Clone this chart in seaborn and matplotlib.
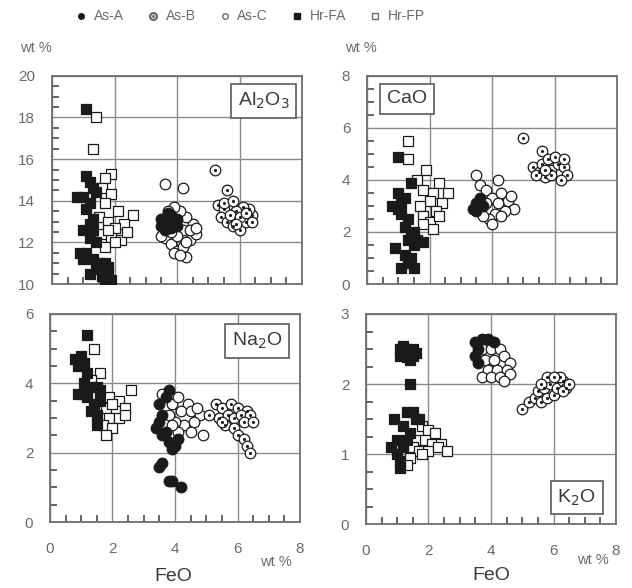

# diagramas FeO vs oxidos (Al2O3, CaO, Na2O, K2O)
import numpy as np
import pandas as pd
import matplotlib
matplotlib.use("Agg")
import matplotlib.pyplot as plt
from matplotlib.ticker import MultipleLocator, AutoMinorLocator
from matplotlib.lines import Line2D
import seaborn as sns

# ---- datos (FeO, oxido) ----
al_hrfa_x = [1.1, 1.1, 1.2, 1.3, 1.0, 0.8, 1.4, 1.2, 1.1, 1.3, 1.2, 1.0, 1.3, 1.2, 1.4, 0.9, 1.1, 1.3, 1.5, 1.7, 1.4, 1.2, 1.6, 1.8, 1.9, 1.7, 1.5, 1.8, 1.0]
al_hrfa_y = [18.4, 15.2, 14.9, 14.6, 14.2, 14.2, 14.4, 13.9, 13.6, 13.1, 12.9, 12.6, 12.6, 12.2, 12.0, 11.5, 11.5, 11.2, 11.0, 11.0, 10.7, 10.5, 10.4, 10.5, 10.2, 10.1, 10.9, 10.8, 11.2]
al_hrfp_x = [1.4, 1.3, 1.9, 1.7, 1.6, 1.9, 1.7, 2.1, 2.6, 1.5, 1.8, 2.3, 2.0, 1.6, 1.9, 2.2, 1.7, 2.0, 2.4, 1.8]
al_hrfp_y = [18.0, 16.5, 15.3, 15.1, 14.6, 14.3, 13.9, 13.5, 13.3, 13.2, 13.0, 12.9, 12.7, 12.4, 12.2, 12.1, 11.8, 12.0, 12.5, 12.6]
al_asa_x = [3.5, 3.7, 3.8, 3.9, 3.6, 4.0, 3.8, 3.7, 4.0, 3.5]
al_asa_y = [12.8, 13.0, 13.3, 12.9, 12.6, 13.1, 12.7, 13.4, 12.8, 13.1]
al_asc_x = [3.6, 4.2, 4.3, 3.6, 3.8, 4.0, 4.2, 4.4, 4.6, 4.5, 4.3, 4.1, 3.9, 3.7, 4.2, 4.0, 3.8, 4.4, 3.9, 4.1, 4.6, 3.5, 4.3]
al_asc_y = [14.8, 14.6, 11.3, 12.2, 11.9, 11.6, 11.8, 12.1, 12.4, 12.9, 13.2, 13.5, 13.7, 13.5, 12.6, 12.3, 12.5, 12.6, 11.5, 11.4, 12.7, 12.3, 12.0]
al_asb_x = [5.2, 5.6, 5.3, 5.5, 5.4, 5.6, 5.8, 6.0, 6.2, 6.4, 6.3, 6.1, 5.9, 5.7, 6.0, 6.2, 5.5, 5.8, 6.4, 5.9]
al_asb_y = [15.5, 14.5, 13.8, 13.6, 13.2, 13.0, 12.8, 12.6, 13.0, 13.3, 13.6, 13.7, 13.5, 13.3, 13.2, 13.4, 13.9, 14.0, 13.0, 12.9]

ca_hrfa_x = [1.0, 1.0, 0.8, 1.0, 1.2, 1.1, 1.3, 1.2, 1.4, 1.3, 1.6, 1.8, 1.5, 0.9, 1.2, 1.3, 1.1, 1.5, 1.4, 1.4, 1.1, 1.5]
ca_hrfa_y = [4.9, 3.5, 3.0, 2.9, 3.3, 2.7, 2.5, 2.2, 1.9, 1.7, 1.7, 1.6, 1.5, 1.4, 1.1, 0.8, 0.6, 0.6, 1.0, 3.9, 3.1, 2.0]
ca_hrfp_x = [1.3, 1.3, 1.9, 1.6, 2.3, 1.8, 2.1, 2.6, 2.0, 2.4, 1.7, 2.2, 1.8, 2.0, 2.1, 1.8, 2.3]
ca_hrfp_y = [5.5, 4.8, 4.4, 4.0, 3.9, 3.6, 3.5, 3.5, 3.2, 3.1, 3.0, 2.8, 2.6, 2.4, 2.1, 2.3, 2.6]
ca_asa_x = [3.4, 3.5, 3.6, 3.5, 3.7]
ca_asa_y = [2.9, 3.1, 3.3, 2.8, 3.0]
ca_asc_x = [3.5, 3.6, 4.2, 3.8, 4.0, 4.3, 4.5, 4.7, 4.4, 4.1, 3.9, 4.0, 3.7, 3.6, 4.2, 3.8, 4.6, 4.3]
ca_asc_y = [4.2, 3.8, 4.0, 3.6, 3.3, 3.5, 3.2, 2.9, 2.8, 2.7, 2.5, 2.3, 2.6, 3.0, 3.1, 3.1, 3.4, 2.6]
ca_asb_x = [5.0, 5.6, 5.3, 5.5, 5.7, 5.9, 6.1, 6.3, 6.4, 6.2, 5.9, 5.6, 5.8, 6.0, 6.3, 5.4, 5.7]
ca_asb_y = [5.6, 5.1, 4.5, 4.3, 4.1, 4.4, 4.6, 4.5, 4.2, 4.0, 4.2, 4.6, 4.8, 4.9, 4.8, 4.2, 4.4]

na_hrfa_x = [1.2, 0.8, 1.0, 0.9, 1.1, 1.2, 1.1, 1.3, 1.5, 1.6, 0.9, 1.2, 1.4, 1.3, 1.6, 1.5, 1.5, 1.1]
na_hrfa_y = [5.4, 4.7, 4.8, 4.5, 4.6, 4.3, 4.0, 3.9, 3.9, 3.8, 3.7, 3.6, 3.4, 3.2, 3.5, 3.1, 2.8, 3.7]
na_hrfp_x = [1.4, 1.6, 1.3, 2.6, 1.9, 2.2, 1.8, 2.1, 2.4, 1.9, 2.2, 1.7, 2.0, 1.8, 2.4, 2.0]
na_hrfp_y = [5.0, 4.3, 4.1, 3.8, 3.6, 3.5, 3.3, 3.2, 3.3, 3.0, 3.0, 2.8, 2.7, 2.5, 3.1, 3.4]
na_asa_x = [3.8, 3.5, 3.6, 3.5, 3.4, 3.6, 3.8, 3.9, 4.0, 4.1, 3.7, 3.5, 3.6, 3.8, 3.9, 4.2, 3.7]
na_asa_y = [3.8, 3.4, 3.1, 2.9, 2.7, 2.5, 2.3, 2.1, 2.2, 2.4, 2.6, 1.6, 1.7, 1.2, 1.2, 1.0, 3.6]
na_asc_x = [3.6, 3.9, 4.1, 4.4, 4.2, 4.5, 4.8, 4.6, 4.9, 4.3, 4.0, 3.8, 4.1, 4.5, 3.9, 4.7]
na_asc_y = [3.7, 3.4, 3.6, 3.4, 3.2, 3.2, 3.1, 2.9, 2.5, 2.8, 2.9, 3.1, 2.6, 2.6, 2.8, 3.3]
na_asb_x = [5.3, 5.5, 5.8, 6.0, 6.3, 5.4, 5.7, 5.9, 6.1, 6.4, 5.6, 5.9, 6.2, 6.0, 6.2, 6.3, 6.4, 5.5, 5.1, 6.5]
na_asb_y = [3.4, 3.3, 3.4, 3.3, 3.2, 3.0, 3.1, 3.0, 3.1, 3.1, 2.8, 2.7, 2.9, 2.5, 2.4, 2.2, 2.0, 2.9, 3.1, 2.9]

k_hrfa_x = [1.1, 1.2, 1.3, 1.4, 1.5, 1.1, 1.3, 1.5, 1.6, 1.4, 1.2, 1.4, 1.3, 1.5, 0.9, 1.7, 1.2, 1.4, 1.0, 1.2, 0.8, 1.0, 1.1, 1.1, 1.6, 1.3]
k_hrfa_y = [2.5, 2.45, 2.5, 2.45, 2.5, 2.4, 2.38, 2.4, 2.45, 2.35, 2.55, 2.0, 1.6, 1.6, 1.5, 1.5, 1.4, 1.3, 1.2, 1.1, 1.1, 1.0, 0.9, 0.8, 1.5, 1.2]
k_hrfp_x = [1.8, 2.0, 2.2, 1.6, 1.9, 2.1, 2.4, 1.5, 1.7, 2.0, 2.3, 2.6, 1.4, 1.3, 1.8]
k_hrfp_y = [1.4, 1.35, 1.3, 1.2, 1.2, 1.15, 1.15, 1.1, 1.05, 1.05, 1.1, 1.05, 0.95, 0.85, 1.0]
k_asa_x = [3.5, 3.7, 3.9, 4.1, 3.6, 3.5, 3.6]
k_asa_y = [2.6, 2.65, 2.65, 2.6, 2.5, 2.4, 2.3]
k_asc_x = [3.7, 4.0, 4.3, 3.8, 4.1, 4.4, 4.6, 3.9, 4.2, 4.5, 3.7, 4.0, 4.3, 4.6, 4.4]
k_asc_y = [2.5, 2.5, 2.5, 2.35, 2.35, 2.4, 2.3, 2.2, 2.2, 2.2, 2.1, 2.1, 2.1, 2.15, 2.05]
k_asb_x = [5.0, 5.2, 5.4, 5.6, 5.8, 6.0, 5.5, 5.7, 5.9, 6.1, 6.3, 6.4, 6.2, 5.8, 6.0, 5.6, 6.3, 6.5]
k_asb_y = [1.65, 1.75, 1.8, 1.75, 1.8, 1.85, 1.9, 1.95, 2.0, 1.95, 2.05, 1.95, 2.1, 2.1, 2.1, 2.0, 1.9, 2.0]

GRIS = "#6a6a6a"
NEGRO = "#1a1a1a"

sns.set_style("white")
plt.rcParams["font.family"] = ["Liberation Sans", "DejaVu Sans"]

fig = plt.figure(figsize=(6.32, 5.88), dpi=100)
pos = [
    [0.0823, 0.517, 0.3956, 0.354],
    [0.5807, 0.517, 0.3956, 0.354],
    [0.0791, 0.112, 0.3956, 0.354],
    [0.5791, 0.108, 0.3956, 0.358],
]

paneles = [
    dict(nombre="Al$_2$O$_3$", ylim=(10, 20), paso=2,
         hrfa=(al_hrfa_x, al_hrfa_y), hrfp=(al_hrfp_x, al_hrfp_y),
         asa=(al_asa_x, al_asa_y), asb=(al_asb_x, al_asb_y), asc=(al_asc_x, al_asc_y),
         caja=(0.95, 0.93, "right", "top")),
    dict(nombre="CaO", ylim=(0, 8), paso=2,
         hrfa=(ca_hrfa_x, ca_hrfa_y), hrfp=(ca_hrfp_x, ca_hrfp_y),
         asa=(ca_asa_x, ca_asa_y), asb=(ca_asb_x, ca_asb_y), asc=(ca_asc_x, ca_asc_y),
         caja=(0.08, 0.93, "left", "top")),
    dict(nombre="Na$_2$O", ylim=(0, 6), paso=2,
         hrfa=(na_hrfa_x, na_hrfa_y), hrfp=(na_hrfp_x, na_hrfp_y),
         asa=(na_asa_x, na_asa_y), asb=(na_asb_x, na_asb_y), asc=(na_asc_x, na_asc_y),
         caja=(0.93, 0.92, "right", "top")),
    dict(nombre="K$_2$O", ylim=(0, 3), paso=1,
         hrfa=(k_hrfa_x, k_hrfa_y), hrfp=(k_hrfp_x, k_hrfp_y),
         asa=(k_asa_x, k_asa_y), asb=(k_asb_x, k_asb_y), asc=(k_asc_x, k_asc_y),
         caja=(0.92, 0.08, "right", "bottom")),
]

for i, (p, d) in enumerate(zip(pos, paneles)):
    ax = fig.add_axes(p)
    ms = 58
    # cuadrados (Hr)
    sns.scatterplot(x=d["hrfp"][0], y=d["hrfp"][1], marker="s", s=ms, color="white",
                    edgecolor=NEGRO, linewidth=0.9, ax=ax, zorder=3)
    sns.scatterplot(x=d["hrfa"][0], y=d["hrfa"][1], marker="s", s=ms, color=NEGRO,
                    edgecolor=NEGRO, linewidth=0.9, ax=ax, zorder=3)
    # circulos (As)
    sns.scatterplot(x=d["asc"][0], y=d["asc"][1], marker="o", s=ms, color="white",
                    edgecolor=NEGRO, linewidth=0.9, ax=ax, zorder=3)
    sns.scatterplot(x=d["asa"][0], y=d["asa"][1], marker="o", s=ms, color=NEGRO,
                    edgecolor=NEGRO, linewidth=0.9, ax=ax, zorder=4)
    sns.scatterplot(x=d["asb"][0], y=d["asb"][1], marker="o", s=ms, color="white",
                    edgecolor=NEGRO, linewidth=0.9, ax=ax, zorder=4)
    sns.scatterplot(x=d["asb"][0], y=d["asb"][1], marker="o", s=5, color=NEGRO,
                    edgecolor=NEGRO, linewidth=0, ax=ax, zorder=5)

    ax.set_xlim(0, 8)
    ax.set_ylim(*d["ylim"])
    ax.xaxis.set_major_locator(MultipleLocator(2))
    ax.yaxis.set_major_locator(MultipleLocator(d["paso"]))
    ax.xaxis.set_minor_locator(AutoMinorLocator(4))
    ax.yaxis.set_minor_locator(AutoMinorLocator(4))
    ax.grid(True, which="major", color="#8a8a8a", lw=1.0)
    ax.set_axisbelow(True)
    ax.tick_params(which="both", direction="in", bottom=True, left=True,
                   labelsize=11, labelcolor=GRIS)
    ax.tick_params(which="major", length=0)
    ax.tick_params(axis="x", which="major", pad=14)
    ax.tick_params(axis="y", which="major", pad=12)
    ax.tick_params(which="minor", length=5, width=1.2, color="#4a4a4a")
    for s in ax.spines.values():
        s.set_color("#6e6e6e")
        s.set_linewidth(1.3)
    if i < 2:
        ax.set_xticklabels([])
    ax.set_xlabel("")
    ax.set_ylabel("")

    cx, cy, ha, va = d["caja"]
    ax.text(cx, cy, d["nombre"], transform=ax.transAxes, ha=ha, va=va, fontsize=14,
            color="#3a3a3a", zorder=6,
            bbox=dict(boxstyle="square,pad=0.35", fc="white", ec="#5a5a5a", lw=1.2))

# etiquetas de unidades y eje
fig.text(0.032, 0.918, "wt %", fontsize=10.5, color=GRIS, ha="left", va="center")
fig.text(0.546, 0.918, "wt %", fontsize=10.5, color=GRIS, ha="left", va="center")
fig.text(0.275, 0.020, "FeO", fontsize=14, color="#3a3a3a", ha="center", va="center")
fig.text(0.778, 0.022, "FeO", fontsize=14, color="#3a3a3a", ha="center", va="center")
fig.text(0.412, 0.044, "wt %", fontsize=10.5, color=GRIS, ha="left", va="center")
fig.text(0.913, 0.048, "wt %", fontsize=10.5, color=GRIS, ha="left", va="center")

# leyenda superior
handles = [
    Line2D([], [], ls="", marker="o", ms=4, mfc=NEGRO, mec=NEGRO),
    Line2D([], [], ls="", marker="$\\odot$", ms=5.5, mfc=GRIS, mec=GRIS),
    Line2D([], [], ls="", marker="o", ms=4, mfc="white", mec=GRIS),
    Line2D([], [], ls="", marker="s", ms=5, mfc=NEGRO, mec=NEGRO),
    Line2D([], [], ls="", marker="s", ms=5, mfc="white", mec=GRIS),
]
etiquetas = ["As-A", "As-B", "As-C", "Hr-FA", "Hr-FP"]
leg = fig.legend(handles, etiquetas, ncol=5, loc="center left", bbox_to_anchor=(0.098, 0.972),
                 frameon=False, fontsize=10, handletextpad=0.4, columnspacing=1.6,
                 handlelength=1.0)
for t in leg.get_texts():
    t.set_color(GRIS)

plt.savefig("out.png", dpi=100)
plt.close()
